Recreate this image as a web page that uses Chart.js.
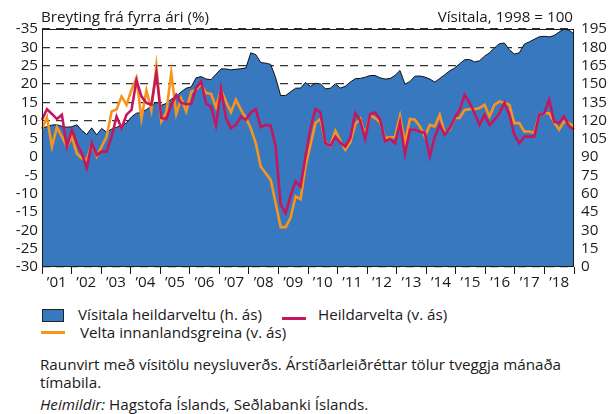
<!DOCTYPE html>
<html>
<head>
<meta charset="utf-8">
<script src="https://cdn.jsdelivr.net/npm/chart.js@4.4.1/dist/chart.umd.min.js"></script>
<style>
  body { margin: 0; background: #fff; }
  #wrap { position: relative; width: 610px; height: 414px; font-family: 'Open Sans', sans-serif; color: #1a1a1a; }
  #chart { position: absolute; left: 0; top: 0; }
  .t { position: absolute; font-size: 15.2px; line-height: 18px; white-space: nowrap; }
  .sw { position: absolute; }
</style>
</head>
<body>
<div id="wrap">
  <canvas id="chart" width="610" height="300"></canvas>
  <div class="t" style="left:41px;top:7px">Breyting frá fyrra ári (%)</div>
  <div class="t" style="right:37px;top:7px">Vísitala, 1998 = 100</div>

  <div class="sw" style="left:42px;top:309px;width:20px;height:11px;background:#3878be;border:1px solid #222"></div>
  <div class="t" style="left:78px;top:305px">Vísitala heildarveltu (h. ás)</div>
  <div class="sw" style="left:282px;top:317px;width:24px;height:3px;background:#c4175f"></div>
  <div class="t" style="left:318px;top:305px">Heildarvelta (v. ás)</div>
  <div class="sw" style="left:41px;top:331px;width:24px;height:3px;background:#f7941d"></div>
  <div class="t" style="left:80px;top:323px">Velta innanlandsgreina (v. ás)</div>

  <div class="t" style="left:40px;top:355px">Raunvirt með vísitölu neysluverðs. Árstíðarleiðréttar tölur tveggja mánaða</div>
  <div class="t" style="left:40px;top:373px">tímabila.</div>
  <div class="t" style="left:40px;top:395px"><i>Heimildir:</i> Hagstofa Íslands, Seðlabanki Íslands.</div>
</div>
<script>
// two-month periods, 2001-2018 (6 per year)
const years = [2001,2002,2003,2004,2005,2006,2007,2008,2009,2010,2011,2012,2013,2014,2015,2016,2017,2018];
const yearLabels = ['’01','’02','’03','’04','’05','’06','’07','’08','’09','’10','’11','’12','’13','’14','’15','’16','’17','’18'];

// Vísitala heildarveltu (right axis, 1998 = 100)
const indexValues = [
  113.8,115,116.3,116.5,115.3,114.5, 115,116.5,112,108.5,114,108.3,
  113.5,110.5,113,114.5,116,118, 123,126,126.5,129,132,135,
  132.5,134,137.5,140,143.5,146.5, 147.5,155,156,154,153.5,158,
  162.3,162.3,161.5,162,162.5,163, 175.5,174,167.5,167,166,155,
  140.5,140.5,143.5,146.5,146.6,151.2, 148,150.5,150,146,146.5,150,
  146.6,148,151.5,154.3,154.5,155.5, 156.9,156.9,155,154,154.4,157,
  161,149.8,152,156.3,156.5,155.6, 154,151.5,154.5,157.5,160.7,163,
  166.5,169.8,170,168,169,172.7, 175.5,179.5,183,183.5,178,174.5,
  175.5,182.5,184.5,186.5,188.6,189, 188.5,189.6,192.5,195,194,191
];

// Heildarvelta, % change from previous year (left axis)
const totalTurnover = [
  10.2,13.1,11.8,10.4,11.6,2.9, 7.5,3.8,1.1,-3.0,3.8,0.6,
  1.5,1.5,5.6,11.1,7.9,11.6, 12.9,21,16.6,14.8,14.3,23,
  10.7,10.4,14.3,17,14.8,14.5, 14.5,18.9,20.7,14.6,13.8,8.6,
  18.6,10.7,7.9,8.8,11.1,10.2, 12.2,13.1,8.2,8.8,8.6,2.9,
  -13,-15.3,-10.5,-6.6,-8,0.2, 7.9,13.1,12.2,3.8,3.1,5.5,
  4,2.9,5.2,12,10,5, 11.8,12.2,10.2,4.3,5,3.8,
  9.5,0.9,7.5,7.5,7,6.6, 0.2,5.6,8.8,6.1,7.9,10.7,
  12.9,17,14.8,12,8.8,11.6, 8.8,10.2,12,14.8,11.6,6.1,
  3.8,5.6,5.6,5.6,11.6,12, 15.7,9.7,9.3,11.1,8.4,7.5
];

// Velta innanlandsgreina, % change from previous year (left axis)
const domesticTurnover = [
  7.7,10.9,2.9,8.2,5.6,2.9, 5.6,1.0,-0.3,-0.8,3.6,0.2,
  2.9,5.6,12.5,13,16.6,14.3, 18.4,21.6,10.5,18.2,12.8,24.8,
  9.7,12.2,23,11.8,16,12.5, 17.8,18.5,19.8,17.5,17.3,13.6,
  18.4,15.2,12.3,15.7,13,10.7, 7.9,3.8,-2.6,-4.4,-6.2,-12.6,
  -19.1,-19.1,-16.5,-10.7,-11.5,-2.5, 3.4,9.3,10.4,4,3,7.2,
  4.5,2,4,9,10.5,6, 11.4,10.7,9.5,5.2,5.4,5.5,
  11.2,3.8,10.4,10.2,8.4,5.6, 8.8,8.4,11.6,6.6,7.5,10.7,
  10.7,12.9,13.1,13.1,13.4,14.3, 11.1,14.3,15.2,14.8,14.3,9.3,
  9.3,7,7,6.6,11.6,12, 12,9.5,7.5,9.7,9.3,8.4
];

const leftTickValues = [-30,-25,-20,-15,-10,-5,0,5,10,15,20,25,30,35];
const leftTickText = ['-30','-25','-20','-15','-10','-5','0','5','10','15','20','25','30','-35'];

const periods = [];
years.forEach(y => { for (let p = 1; p <= 6; p++) periods.push(y + '-' + p); });

const BLUE = '#3878be';
const MAGENTA = '#c4175f';
const ORANGE = '#f7941d';
const tickFont = { family: "'Open Sans', sans-serif", size: 15.2 };

// frame around the plot area, drawn over the filled area
const framePlugin = {
  id: 'frame',
  afterDatasetsDraw(chart) {
    const { ctx, chartArea: a } = chart;
    ctx.save();
    ctx.strokeStyle = '#1a1a1a';
    ctx.lineWidth = 1;
    ctx.strokeRect(Math.round(a.left) + 0.5, Math.round(a.top) + 0.5,
      Math.round(a.right - a.left) - 1, Math.round(a.bottom - a.top) - 1);
    ctx.restore();
  }
};

new Chart(document.getElementById('chart').getContext('2d'), {
  type: 'line',
  data: {
    labels: periods,
    datasets: [
      {
        label: 'Heildarvelta (v. ás)',
        data: totalTurnover,
        yAxisID: 'y',
        borderColor: MAGENTA,
        borderWidth: 2.6,
        pointRadius: 0,
        tension: 0,
        fill: false,
        order: 1
      },
      {
        label: 'Velta innanlandsgreina (v. ás)',
        data: domesticTurnover,
        yAxisID: 'y',
        borderColor: ORANGE,
        borderWidth: 2.6,
        pointRadius: 0,
        tension: 0,
        fill: false,
        order: 2
      },
      {
        label: 'Vísitala heildarveltu (h. ás)',
        data: indexValues,
        yAxisID: 'y2',
        borderColor: '#111',
        borderWidth: 1,
        backgroundColor: BLUE,
        pointRadius: 0,
        tension: 0,
        fill: 'start',
        order: 3
      }
    ]
  },
  options: {
    responsive: false,
    animation: false,
    events: [],
    layout: { padding: { top: 29, left: 0, right: 0, bottom: 0 } },
    plugins: { legend: { display: false }, tooltip: { enabled: false } },
    scales: {
      x: { display: false, offset: false },
      xl: {
        type: 'category',
        labels: yearLabels,
        position: 'bottom',
        offset: true,
        grid: { offset: true, drawOnChartArea: false, tickLength: 7, color: '#1a1a1a', lineWidth: 1 },
        border: { display: false },
        ticks: { font: tickFont, color: '#1a1a1a', padding: 0, maxRotation: 0, autoSkip: false },
        afterFit: s => { s.height = 33; }
      },
      y: {
        position: 'left',
        min: -30,
        max: 35,
        afterBuildTicks: s => { s.ticks = leftTickValues.map(v => ({ value: v })); },
        grid: { color: '#333', lineWidth: 1.2, drawTicks: false },
        border: { display: false, dash: [8, 6] },
        ticks: {
          font: tickFont, color: '#1a1a1a', padding: 4, autoSkip: false,
          callback: v => leftTickText[leftTickValues.indexOf(v)]
        },
        afterFit: s => { s.width = 42; }
      },
      y2: {
        position: 'right',
        min: 0,
        max: 195,
        ticks: { stepSize: 15, font: tickFont, color: '#1a1a1a', padding: 7, autoSkip: false },
        grid: { drawOnChartArea: false, drawTicks: false },
        border: { display: false },
        afterFit: s => { s.width = 36; }
      }
    }
  },
  plugins: [framePlugin]
});
</script>
</body>
</html>
